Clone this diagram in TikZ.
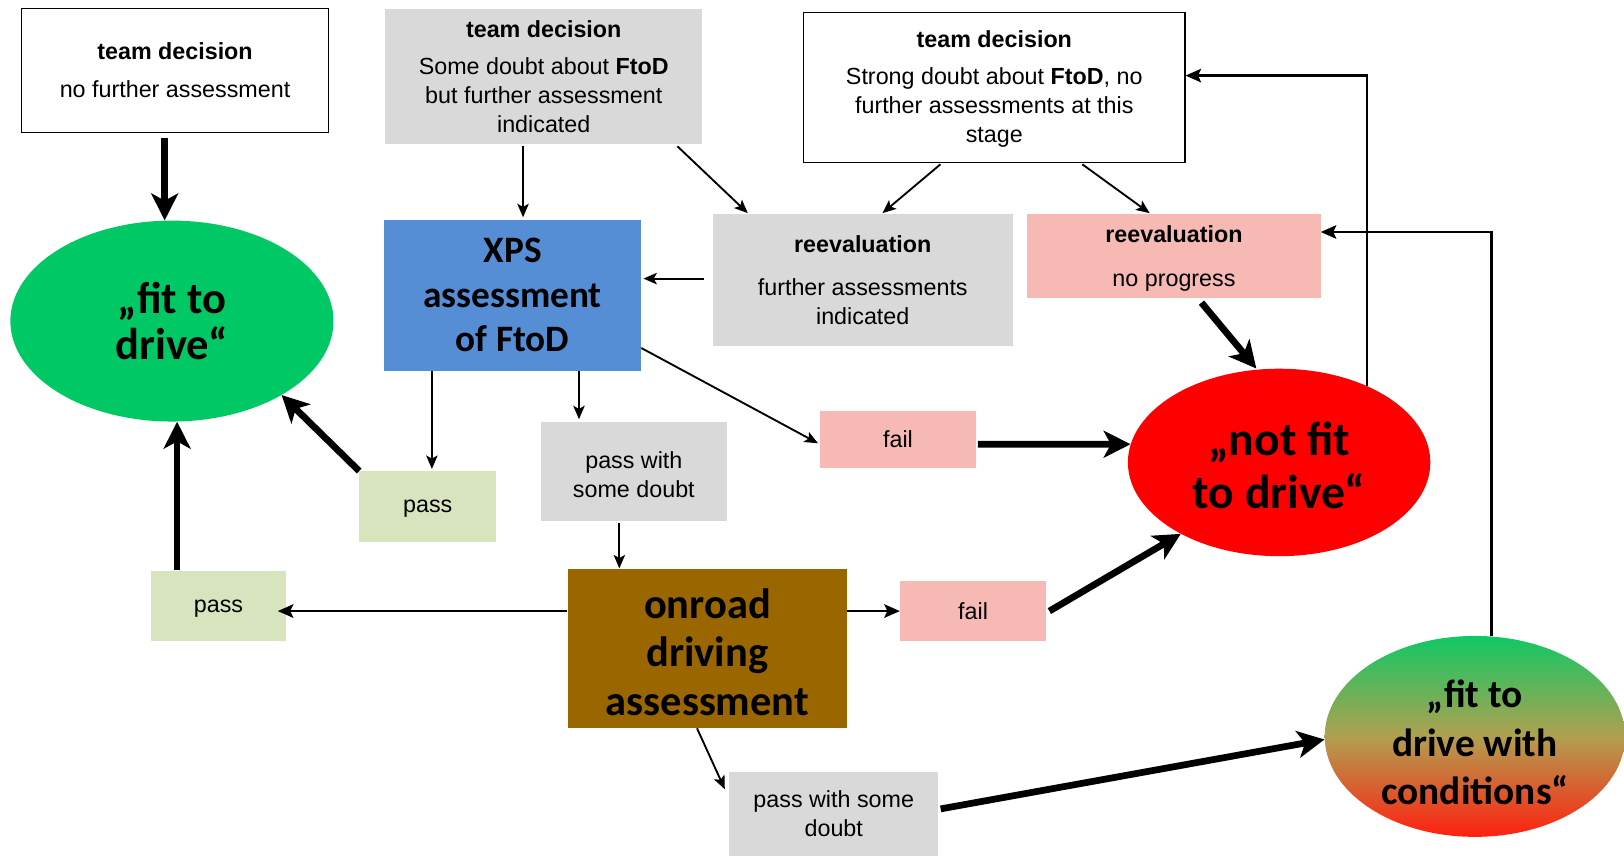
\documentclass[tikz,border=0pt]{standalone}
\usepackage{fontspec}
\setmainfont{Liberation Sans}
\newfontfamily\bigf{Carlito}
\usetikzlibrary{arrows.meta,shapes.geometric}
\definecolor{boxgray}{HTML}{D9D9D9}
\definecolor{xpsblue}{HTML}{558ED5}
\definecolor{pinkbox}{HTML}{F6B9B4}
\definecolor{passgreen}{HTML}{D7E4BD}
\definecolor{onbrown}{HTML}{996600}
\definecolor{fitgreen}{HTML}{00C864}
\definecolor{notred}{HTML}{FF0000}
\definecolor{gradtop}{HTML}{10C864}
\definecolor{gradmid}{HTML}{B0A050}
\definecolor{gradbot}{HTML}{FF2010}
\tikzset{
 box/.style={rectangle, inner sep=0pt, align=center, font=\fontsize{22.5}{28}\selectfont},
 whitebox/.style={box, draw=black, line width=1.3pt, fill=white},
 graybox/.style={box, fill=boxgray},
 pinkb/.style={box, fill=pinkbox},
 greenb/.style={box, fill=passgreen, text depth=0pt},
 bigbox/.style={rectangle, inner sep=0pt, align=center},
 oval/.style={ellipse, inner sep=0pt},
 arr/.style={line width=1.8pt, -{Stealth[length=13pt,width=11pt,inset=3pt]}},
 midarr/.style={line width=2.6pt, -{Stealth[length=15pt,width=13pt,inset=3pt]}},
 fat/.style={line width=6.5pt, -{Stealth[length=26pt,width=26pt,inset=7pt]}},
}
\begin{document}
\begin{tikzpicture}[x=1pt,y=-1pt]
\useasboundingbox (0,0) rectangle (1568,826);
\fill[white] (0,0) rectangle (1568,826);
\begin{scope}
\clip (0,0) rectangle (1568,826);
% boxes
\node[whitebox, minimum width=296pt, minimum height=120pt] (A) at (169,68)
  {\textbf{team decision}\\[9pt]no further assessment};
\node[graybox, minimum width=306pt, minimum height=130pt] (B) at (525,74)
  {\textbf{team decision}\\[8pt]Some doubt about \textbf{FtoD}\\but further assessment\\indicated};
\node[whitebox, minimum width=368pt, minimum height=145pt] (C) at (960,84.5)
  {\rule{0pt}{19pt}\textbf{team decision}\\[8pt]Strong doubt about \textbf{FtoD}, no\\further assessments at this\\stage};
\node[bigbox, fill=xpsblue, minimum width=248pt, minimum height=146pt,
  font=\bigf\bfseries\fontsize{36}{43}\selectfont] (XPS) at (495,285)
  {XPS\\assessment\\of FtoD};
\node[graybox, minimum width=290pt, minimum height=127pt] (reevG) at (833,270.5)
  {\textbf{reevaluation}\\[14pt]further assessments\\indicated};
\node[pinkb, minimum width=283pt, minimum height=81pt] (reevP) at (1133.5,247.5)
  {\rule{0pt}{20pt}\textbf{reevaluation}\\[14pt]no progress};
% ovals
\node[oval, fill=fitgreen, minimum width=312pt, minimum height=194pt,
  label={[font=\bigf\bfseries\fontsize{43}{44}\selectfont, align=center]center:{„fit to\\drive“}}]
  (fit) at (166,310) {};
\node[oval, fill=notred, minimum width=292pt, minimum height=181pt,
  label={[yshift=-2.5pt, font=\bigf\bfseries\fontsize{46}{51}\selectfont, align=center]center:{„not fit\\to drive“}}]
  (nf) at (1235,446.5) {};
\node[oval, top color=gradtop, bottom color=gradbot, middle color=gradmid,
  minimum width=290pt, minimum height=194pt,
  label={[yshift=-6pt, font=\bigf\bfseries\fontsize{38}{47}\selectfont, align=center]center:{„fit to\\drive with\\conditions“}}]
  (grad) at (1424,711) {};
% small boxes
\node[greenb, minimum width=132pt, minimum height=68pt] (pass1) at (413,489) {pass};
\node[graybox, minimum width=180pt, minimum height=96pt] (pwsd) at (612,455) {\rule{0pt}{23pt}pass with\\some doubt};
\node[pinkb, minimum width=150pt, minimum height=55pt] (fail1) at (867,424.5) {fail};
\node[greenb, minimum width=130pt, minimum height=68pt] (pass2) at (211,585) {pass};
\node[bigbox, fill=onbrown, minimum width=270pt, minimum height=154pt,
  font=\bigf\bfseries\fontsize{41}{47}\selectfont] (onroad) at (683,626)
  {\rule{0pt}{36pt}onroad\\driving\\assessment};
\node[pinkb, minimum width=141pt, minimum height=58pt] (fail2) at (939.5,590) {fail};
\node[graybox, minimum width=202pt, minimum height=81pt] (pwsd2) at (805,785.5) {pass with some\\doubt};
% connectors
\draw[fat] ([xshift=-10pt,yshift=-5pt]A.south) -- ([xshift=-7pt]fit.north);
\draw[arr] ([xshift=-20pt,yshift=-2pt]B.south) -- ([xshift=10pt,yshift=2pt]XPS.north);
\draw[arr] ([xshift=129pt,yshift=-2pt]B.south) -- ([xshift=-111pt,yshift=1pt]reevG.north);
\draw[arr] ([xshift=-52pt,yshift=-1pt]C.south) -- ([xshift=19pt,yshift=1pt]reevG.north);
\draw[arr] ([xshift=85pt,yshift=-1pt]C.south) -- ([xshift=-23.5pt,yshift=1pt]reevP.north);
\draw[arr] ([xshift=-8pt,yshift=1.5pt]reevG.west) -- ([xshift=2pt,yshift=16pt]XPS.east);
\draw[fat] ([xshift=26.5pt,yshift=-4pt]reevP.south) -- ([xshift=-22pt]nf.north);
\draw[midarr] (nf.41) |- ([yshift=11.5pt]C.east);
\draw[midarr] ([xshift=16pt]grad.north) |- ([yshift=23.5pt]reevP.east);
\draw[arr] ([xshift=-78pt]XPS.south) -- ([xshift=4pt,yshift=2pt]pass1.north);
\draw[arr] ([xshift=64pt]XPS.south) -- ([xshift=-53pt,yshift=2pt]pwsd.north);
\draw[arr] ([yshift=-51pt]XPS.east) -- ([xshift=-2pt,yshift=-3.5pt]fail1.west);
\draw[fat] ([xshift=2pt,yshift=-4.5pt]fail1.east) -- (nf.173);
\draw[fat] (pass1.north west) -- (fit.-34.5);
\draw[fat] ([xshift=-40pt]pass2.north) -- ([xshift=5pt]fit.south);
\draw[arr] ([xshift=-14pt,yshift=-2pt]pwsd.south) -- ([xshift=-85pt]onroad.north);
\draw[midarr] ([yshift=36pt]onroad.west) -- ([xshift=-8pt,yshift=-5pt]pass2.east);
\draw[midarr] ([yshift=36pt]onroad.east) -- (fail2.west);
\draw[fat] ([xshift=3pt]fail2.east) -- (nf.216);
\draw[arr] ([xshift=-10pt]onroad.south) -- ([xshift=-4pt,yshift=23.5pt]pwsd2.west);
\draw[fat] ([xshift=2pt,yshift=4.5pt]pwsd2.east) -- ([yshift=-3pt]grad.west);
\end{scope}
\end{tikzpicture}
\end{document}
